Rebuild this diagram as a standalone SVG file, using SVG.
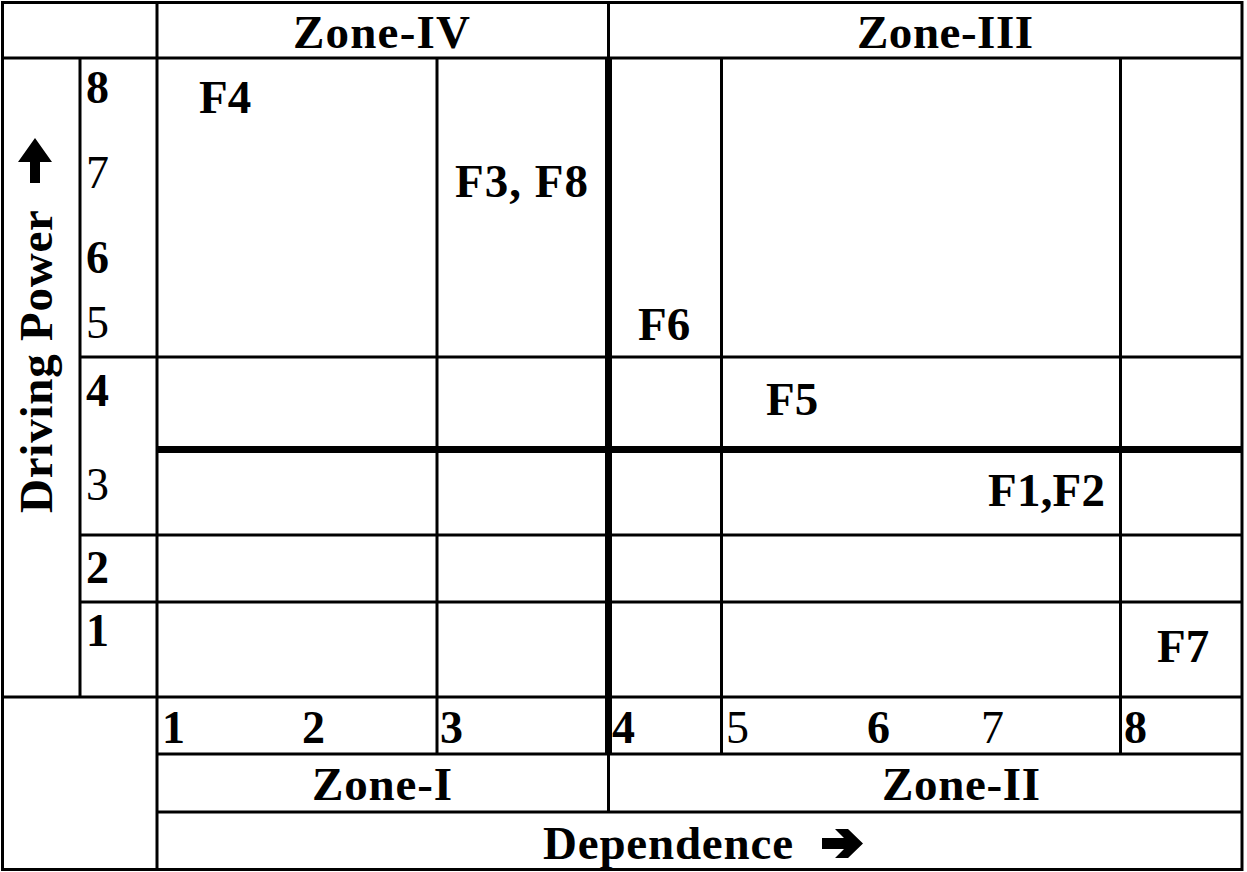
<svg xmlns="http://www.w3.org/2000/svg" width="1247" height="872" viewBox="0 0 1247 872">
<style>
.thin{stroke:#000;stroke-width:3;fill:none}
.thick{stroke:#000;stroke-width:7;fill:none}
text{font-family:"Liberation Serif","Times New Roman",serif;fill:#000}
.b{font-weight:bold}
.n{font-size:46px}
.lab{font-size:47px;font-weight:bold}
.zone{font-size:47px;font-weight:bold}
</style>
<rect width="1247" height="872" fill="#fff"/>
<g id="grid">
  <rect class="thin" x="2.5" y="2.5" width="1239.5" height="867"/>
  <line class="thin" x1="2" y1="58" x2="1242" y2="58"/>
  <line class="thin" x1="2" y1="697" x2="1242" y2="697"/>
  <line class="thin" x1="80" y1="357" x2="1242" y2="357"/>
  <line class="thin" x1="80" y1="535" x2="1242" y2="535"/>
  <line class="thin" x1="80" y1="602" x2="1242" y2="602"/>
  <line class="thin" x1="157" y1="754" x2="1242" y2="754"/>
  <line class="thin" x1="157" y1="812" x2="1242" y2="812"/>
  <line class="thin" x1="80" y1="58" x2="80" y2="697"/>
  <line class="thin" x1="157" y1="2" x2="157" y2="870"/>
  <line class="thin" x1="437" y1="58" x2="437" y2="754"/>
  <line class="thin" x1="608.5" y1="2" x2="608.5" y2="58"/>
  <line class="thin" x1="608.5" y1="754" x2="608.5" y2="812"/>
  <line class="thin" x1="721.5" y1="58" x2="721.5" y2="754"/>
  <line class="thin" x1="1120.5" y1="58" x2="1120.5" y2="754"/>
  <line class="thick" x1="608.5" y1="58" x2="608.5" y2="754"/>
  <line class="thick" x1="157" y1="449.5" x2="1242" y2="449.5"/>
</g>
<g id="zones">
  <text class="zone" x="293" y="48" textLength="177" lengthAdjust="spacing">Zone-IV</text>
  <text class="zone" x="857" y="48" textLength="176" lengthAdjust="spacing">Zone-III</text>
  <text class="zone" x="312" y="800" textLength="140" lengthAdjust="spacing">Zone-I</text>
  <text class="zone" x="882" y="800" textLength="158" lengthAdjust="spacing">Zone-II</text>
</g>
<g id="y-axis">
  <text class="zone" transform="translate(52,513) rotate(-90)" textLength="303" lengthAdjust="spacing">Driving Power</text>
  <path d="M35,138 L52,162 H40 V183 H30 V162 H18 Z" fill="#000"/>
  <text class="n b" x="86" y="103">8</text>
  <text class="n" x="86" y="188">7</text>
  <text class="n b" x="86" y="273">6</text>
  <text class="n" x="86" y="338">5</text>
  <text class="n b" x="86" y="406">4</text>
  <text class="n" x="86" y="500">3</text>
  <text class="n b" x="86" y="583">2</text>
  <text class="n b" x="86" y="646">1</text>
</g>
<g id="x-axis">
  <text class="n b" x="162" y="743">1</text>
  <text class="n b" x="302" y="743">2</text>
  <text class="n b" x="440" y="743">3</text>
  <text class="n b" x="612" y="743">4</text>
  <text class="n" x="726" y="743">5</text>
  <text class="n b" x="867" y="743">6</text>
  <text class="n" x="981" y="743">7</text>
  <text class="n b" x="1124" y="743">8</text>
  <text class="zone" x="543" y="859" textLength="250" lengthAdjust="spacing">Dependence</text>
  <path d="M822,838 H844 L835,829 H848 L863,843.5 L848,858 H835 L844,849 H822 Z" fill="#000"/>
</g>
<g id="factors">
  <text id="F4" class="lab" x="199" y="113">F4</text>
  <text id="F3F8" class="lab" x="455" y="197" textLength="133" lengthAdjust="spacing">F3, F8</text>
  <text id="F6" class="lab" x="638" y="340">F6</text>
  <text id="F5" class="lab" x="766" y="415">F5</text>
  <text id="F1F2" class="lab" x="988" y="506" textLength="117" lengthAdjust="spacing">F1,F2</text>
  <text id="F7" class="lab" x="1157" y="662">F7</text>
</g>
</svg>
